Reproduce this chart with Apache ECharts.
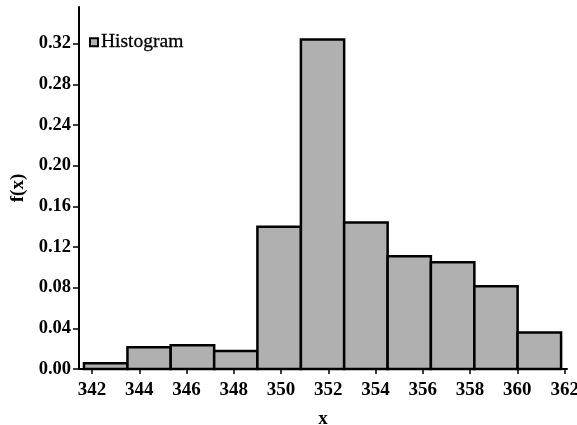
<!DOCTYPE html>
<html>
<head>
<meta charset="utf-8">
<script src="https://cdn.jsdelivr.net/npm/echarts@6/dist/echarts.min.js"></script>
<style>html,body{margin:0;padding:0;background:#fff}#c{width:577px;height:425px}</style>
</head>
<body>
<div id="c"></div>
<script>
var binEdges = [341.66, 343.50, 345.33, 347.17, 349.00, 350.84, 352.67, 354.51, 356.34, 358.18, 360.01, 361.85];
var heights = [0.0056, 0.0213, 0.0233, 0.0177, 0.140, 0.324, 0.144, 0.111, 0.105, 0.0815, 0.036];
var xTicks = [342, 344, 346, 348, 350, 352, 354, 356, 358, 360, 362];
var yTicks = [0, 0.04, 0.08, 0.12, 0.16, 0.20, 0.24, 0.28, 0.32];

var data = heights.map(function (h, i) { return [binEdges[i], binEdges[i + 1], h]; });
var font = 'Liberation Serif';
var chart = echarts.init(document.getElementById('c'));
chart.setOption({
  animation: false,
  backgroundColor: '#fff',
  grid: { left: 79, right: 10, top: 7, bottom: 56, containLabel: false, outerBoundsMode: 'none' },
  legend: {
    left: 84, top: 27,
    itemWidth: 8, itemHeight: 8, itemGap: 4,
    data: [{ name: 'Histogram', icon: 'rect' }],
    itemStyle: { color: '#b0b0b0', borderColor: '#000', borderWidth: 2 },
    textStyle: { fontFamily: font, fontSize: 19.5, color: '#000', padding: [0, 0, 0, -2], textBorderColor: '#000', textBorderWidth: 0.3 }
  },
  xAxis: {
    type: 'value', min: 341.45, max: 362.1,
    name: 'x', nameLocation: 'middle', nameGap: 41,
    nameTextStyle: { fontFamily: font, fontSize: 19, fontWeight: 'bold', color: '#000' },
    axisLine: { lineStyle: { color: '#000', width: 2 } },
    axisTick: { show: true, length: 5, lineStyle: { color: '#000', width: 1.5 }, customValues: xTicks },
    axisLabel: { fontFamily: font, fontSize: 19, fontWeight: 'bold', color: '#000', margin: 12, customValues: xTicks },
    splitLine: { show: false }
  },
  yAxis: {
    type: 'value', min: 0, max: 0.356,
    name: 'f(x)', nameLocation: 'middle', nameGap: 48, nameRotate: 90,
    nameTextStyle: { fontFamily: font, fontSize: 19, fontWeight: 'bold', color: '#000' },
    axisLine: { show: true, lineStyle: { color: '#000', width: 2 } },
    axisTick: { show: true, length: 6, lineStyle: { color: '#000', width: 1.5 }, customValues: yTicks },
    axisLabel: { fontFamily: font, fontSize: 18.5, fontWeight: 'bold', color: '#000', margin: 8,
      customValues: yTicks, formatter: function (v) { return v.toFixed(2); } },
    splitLine: { show: false }
  },
  series: [{
    name: 'Histogram',
    type: 'custom',
    itemStyle: { color: '#b0b0b0', borderColor: '#000', borderWidth: 2.5 },
    renderItem: function (params, api) {
      var p0 = api.coord([api.value(0), api.value(2)]);
      var p1 = api.coord([api.value(1), 0]);
      return {
        type: 'rect',
        shape: { x: p0[0], y: p0[1], width: p1[0] - p0[0], height: p1[1] - p0[1] },
        style: { fill: '#b0b0b0', stroke: '#000', lineWidth: 2.5 }
      };
    },
    encode: { x: [0, 1], y: 2 },
    data: data
  }]
});
</script>
</body>
</html>
